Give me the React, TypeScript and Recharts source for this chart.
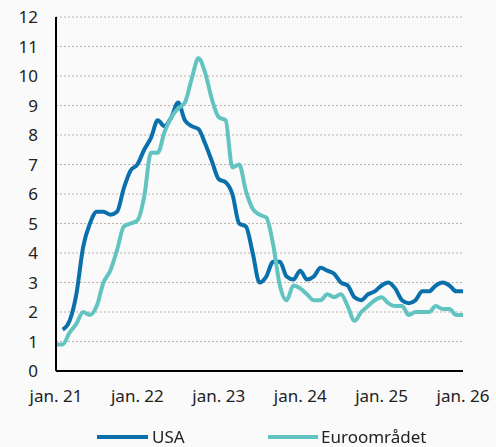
import React from 'react';
import { LineChart, Line, XAxis, YAxis, CartesianGrid } from 'recharts';

// månedlig inflasjon i prosent, jan. 21 - jan. 26
const monthIndex = Array.from({ length: 61 }, (_, i) => i);

const usa = [
  null,
  1.4, 1.7, 2.6, 4.2, 5.0, 5.4, 5.4, 5.3, 5.4, 6.2, 6.8, 7.0,
  7.5, 7.9, 8.5, 8.3, 8.6, 9.1, 8.5, 8.3, 8.2, 7.7, 7.1, 6.5,
  6.4, 6.0, 5.0, 4.9, 4.0, 3.0, 3.2, 3.7, 3.7, 3.2, 3.1, 3.4,
  3.1, 3.2, 3.5, 3.4, 3.3, 3.0, 2.9, 2.5, 2.4, 2.6, 2.7, 2.9,
  3.0, 2.8, 2.4, 2.3, 2.4, 2.7, 2.7, 2.9, 3.0, 2.9, 2.7, 2.7,
];

const euro = [
  0.9, 0.9, 1.3, 1.6, 2.0, 1.9, 2.2, 3.0, 3.4, 4.1, 4.9, 5.0,
  5.1, 5.9, 7.4, 7.4, 8.1, 8.6, 8.9, 9.1, 9.9, 10.6, 10.1, 9.2,
  8.6, 8.5, 6.9, 7.0, 6.1, 5.5, 5.3, 5.2, 4.3, 2.9, 2.4, 2.9,
  2.8, 2.6, 2.4, 2.4, 2.6, 2.5, 2.6, 2.2, 1.7, 2.0, 2.2, 2.4,
  2.5, 2.3, 2.2, 2.2, 1.9, 2.0, 2.0, 2.0, 2.2, 2.1, 2.1, 1.9,
  1.9,
];

const xTicks = [0, 12, 24, 36, 48, 60];
const xLabels = ['jan. 21', 'jan. 22', 'jan. 23', 'jan. 24', 'jan. 25', 'jan. 26'];
const yTicks = [0, 1, 2, 3, 4, 5, 6, 7, 8, 9, 10, 11, 12];

const seriesNames = ['USA', 'Euroområdet'];
const COLORS = ['#0a70ab', '#62c4c0'];

const data = monthIndex.map((i) => ({ i, usa: usa[i], euro: euro[i] }));

const FONT = '"Noto Sans", sans-serif';
const TEXT = '#222';

export default function App() {
  return (
    <div
      style={{
        position: 'fixed',
        top: 0,
        left: 0,
        width: 496,
        height: 447,
        background: '#fafafa',
        fontFamily: FONT,
      }}
    >
      <LineChart width={496} height={447} data={data} margin={{ top: 17, right: 33, left: 0, bottom: 0 }}>
        <CartesianGrid vertical={false} stroke="#bdb1ac" strokeDasharray="2 2" />
        <XAxis
          dataKey="i"
          type="number"
          domain={[0, 60]}
          ticks={xTicks}
          tickFormatter={(v: number) => xLabels[xTicks.indexOf(v)]}
          height={76}
          tickLine={false}
          tickMargin={13}
          axisLine={{ stroke: '#000', strokeWidth: 2 }}
          tick={{ fill: TEXT, fontSize: 17, fontFamily: FONT }}
          interval={0}
        />
        <YAxis
          domain={[0, 12]}
          ticks={yTicks}
          width={56}
          tickLine={false}
          tickMargin={12}
          axisLine={{ stroke: '#000', strokeWidth: 2 }}
          tick={{ fill: TEXT, fontSize: 17, fontFamily: FONT }}
          interval={0}
        />
        <Line
          dataKey="usa"
          type="monotone"
          stroke={COLORS[0]}
          strokeWidth={4}
          dot={false}
          isAnimationActive={false}
        />
        <Line
          dataKey="euro"
          type="monotone"
          stroke={COLORS[1]}
          strokeWidth={4}
          dot={false}
          isAnimationActive={false}
        />
      </LineChart>
      {/* legend */}
      <div style={{ position: 'absolute', top: 425, left: 97, display: 'flex', alignItems: 'center', color: TEXT, fontSize: 17, lineHeight: '24px' }}>
        <span style={{ display: 'inline-block', width: 51, height: 4, background: COLORS[0], marginRight: 4 }} />
        <span>{seriesNames[0]}</span>
      </div>
      <div style={{ position: 'absolute', top: 425, left: 268, display: 'flex', alignItems: 'center', color: TEXT, fontSize: 17, lineHeight: '24px' }}>
        <span style={{ display: 'inline-block', width: 50, height: 4, background: COLORS[1], marginRight: 3 }} />
        <span>{seriesNames[1]}</span>
      </div>
    </div>
  );
}
